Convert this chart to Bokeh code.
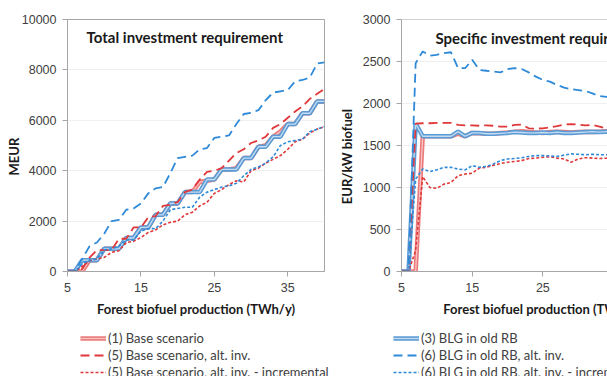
from bokeh.embed import file_html
from bokeh.layouts import column, row
from bokeh.models import FixedTicker, Label, Legend, LegendItem, Range1d, Span
from bokeh.plotting import figure
from bokeh.resources import INLINE

# Forest biofuel production (TWh/y)
production = list(range(5, 41))

# Total investment requirement (MEUR)
total_base = [0, 0, 0, 450, 450, 900, 900, 900, 1330, 1330, 1750, 1750, 2250, 2250,
              2700, 2700, 3150, 3150, 3550, 3600, 3650, 4050, 4050, 4100, 4500, 4500,
              4950, 5000, 5350, 5550, 5850, 5850, 6280, 6280, 6750, 6750]
total_blg = [0, 0, 450, 450, 450, 900, 900, 900, 1330, 1330, 1750, 1750, 2250, 2250,
             2700, 2700, 3150, 3150, 3150, 3650, 3650, 4050, 4050, 4050, 4500, 4500,
             4950, 4950, 5350, 5350, 5850, 5850, 6280, 6280, 6750, 6750]
total_base_alt = [0, 0, 100, 550, 850, 850, 850, 1300, 1300, 1750, 1750, 2150, 2200,
                  2600, 2650, 2750, 3150, 3250, 3650, 3950, 4000, 4100, 4400, 4700,
                  4850, 5100, 5200, 5350, 5700, 5850, 6100, 6350, 6550, 6850, 7050, 7250]
total_blg_alt = [0, 0, 500, 1000, 1150, 1500, 2000, 2050, 2450, 2500, 2700, 3100, 3300,
                 3350, 3900, 4500, 4550, 4600, 4850, 4900, 5300, 5350, 5400, 5850, 6250,
                 6300, 6400, 6800, 7100, 7150, 7200, 7550, 7600, 7700, 8250, 8300]
total_base_incr = [0, 0, 200, 430, 500, 560, 760, 820, 1150, 1200, 1350, 1550, 1650,
                   1850, 1950, 2000, 2250, 2350, 2600, 2750, 3100, 3250, 3450, 3600, 3550,
                   4000, 4100, 4300, 4450, 4600, 4850, 5150, 5250, 5500, 5650, 5750]
total_blg_incr = [0, 0, 300, 450, 500, 850, 900, 1000, 1250, 1250, 1600, 1700, 1700,
                  2000, 2450, 2500, 2550, 2550, 2950, 3150, 3250, 3350, 3400, 3500, 3800,
                  4050, 4150, 4300, 4550, 5000, 5150, 5200, 5250, 5550, 5650, 5750]

# Specific investment requirement (EUR/kW biofuel)
spec_base = [0, 0, 0, 1610, 1610, 1610, 1610, 1610, 1640, 1610, 1650, 1645, 1640, 1640,
             1650, 1655, 1665, 1670, 1660, 1655, 1650, 1660, 1665, 1660, 1655, 1660,
             1665, 1660, 1665, 1670, 1665, 1670, 1670, 1668, 1672, 1670]
spec_blg = [0, 0, 1760, 1610, 1610, 1610, 1610, 1610, 1665, 1610, 1650, 1650, 1640, 1640,
            1645, 1650, 1660, 1655, 1650, 1650, 1655, 1650, 1660, 1650, 1650, 1655, 1660,
            1665, 1660, 1665, 1670, 1670, 1672, 1670, 1675, 1675]
spec_base_alt = [0, 0, 1760, 1765, 1765, 1770, 1770, 1770, 1745, 1740, 1740, 1735, 1740,
                 1735, 1725, 1725, 1745, 1750, 1705, 1700, 1705, 1715, 1730, 1750, 1755,
                 1750, 1740, 1745, 1725, 1700, 1700, 1700, 1700, 1700, 1700, 1700]
spec_blg_alt = [0, 0, 2480, 2620, 2570, 2580, 2600, 2610, 2420, 2420, 2520, 2400, 2390,
                2380, 2370, 2410, 2420, 2410, 2370, 2320, 2280, 2260, 2220, 2190, 2170,
                2160, 2150, 2120, 2090, 2080, 2090, 2060, 2040, 2030, 2020, 2010]
spec_base_incr = [0, 0, 250, 1130, 1000, 990, 1040, 1060, 1140, 1160, 1170, 1230, 1240,
                  1265, 1285, 1300, 1310, 1320, 1345, 1350, 1360, 1365, 1350, 1340, 1300,
                  1340, 1355, 1350, 1345, 1350, 1360, 1360, 1365, 1365, 1370, 1370]
spec_blg_incr = [0, 0, 1100, 1220, 1190, 1210, 1240, 1240, 1220, 1210, 1260, 1240, 1250,
                 1280, 1320, 1340, 1345, 1355, 1370, 1380, 1380, 1375, 1370, 1385, 1400,
                 1395, 1390, 1395, 1390, 1390, 1390, 1395, 1395, 1400, 1400, 1400]

legend_labels = {
    "base": "(1) Base scenario",
    "base_alt": "(5) Base scenario, alt. inv.",
    "base_incr": "(5) Base scenario, alt. inv. - incremental",
    "blg": "(3) BLG in old RB",
    "blg_alt": "(6) BLG in old RB, alt. inv.",
    "blg_incr": "(6) BLG in old RB, alt. inv. - incremental",
}

RED = "#e0383a"
RED_SOFT = "#ec7a7a"
RED_PALE = "#f7c4c4"
BLUE = "#2e8ad8"
BLUE_SOFT = "#5b9bd5"
BLUE_PALE = "#c3dcf2"

TEXT_FONT = "Lato"
NUM_FONT = "Liberation Sans"
GRAY = "#404040"
FRAME = "#a6a6a6"
NBSP = "\u00a0"

# line styles per series: list of (color, width, dash) strokes drawn on top of each other
STROKES = {
    "base": [(RED_SOFT, 4.5, "solid"), (RED_PALE, 1.3, "solid")],
    "blg": [(BLUE_SOFT, 4.5, "solid"), (BLUE_PALE, 1.3, "solid")],
    "base_alt": [(RED, 1.8, "9 5")],
    "blg_alt": [(BLUE, 1.8, "9 5")],
    "base_incr": [(RED, 1.6, "3 2")],
    "blg_incr": [(BLUE, 1.6, "3 2")],
}
ORDER = ["base", "blg", "base_alt", "blg_alt", "base_incr", "blg_incr"]


def style(p, yticks, xlabel, ylabel):
    p.background_fill_color = "white"
    p.border_fill_color = "white"
    p.xgrid.grid_line_color = None
    p.ygrid.grid_line_color = "#efefef"
    p.xaxis.ticker = FixedTicker(ticks=[5, 15, 25, 35])
    p.yaxis.ticker = FixedTicker(ticks=yticks)
    for ax in (p.xaxis, p.yaxis):
        ax.axis_line_color = FRAME
        ax.major_tick_line_color = FRAME
        ax.minor_tick_line_color = None
        ax.major_tick_in = 0
        ax.major_tick_out = 5
        ax.major_label_text_font = NUM_FONT
        ax.major_label_text_font_size = "12.5px"
        ax.major_label_text_color = GRAY
        ax.axis_label_text_font = TEXT_FONT
        ax.axis_label_text_font_style = "bold"
        ax.axis_label_text_font_size = "13px"
        ax.axis_label_text_color = "#1a1a1a"
    p.xaxis.major_label_standoff = 6
    p.yaxis.major_label_standoff = 6
    p.xaxis.axis_label = xlabel
    p.yaxis.axis_label = ylabel
    p.xaxis.axis_label_standoff = 6
    p.yaxis.formatter.use_scientific = False


def draw_series(p, values):
    for key in ORDER:
        for color, width, dash in STROKES[key]:
            p.line(production, values[key], line_color=color, line_width=width,
                   line_dash=dash)


def legend_panel(width, keys, x_off):
    p = figure(width=width, height=46, output_backend="svg", toolbar_location=None,
               x_axis_type=None, y_axis_type=None,
               x_range=Range1d(0, 1), y_range=Range1d(0, 1),
               min_border_left=0, min_border_right=0, min_border_top=0,
               min_border_bottom=0)
    p.outline_line_color = None
    p.grid.grid_line_color = None
    items = []
    for key in keys:
        # legend-only strokes: a single missing point, so nothing is plotted
        rends = [p.line([float("nan")], [float("nan")], line_color=c, line_width=w,
                        line_dash=d)
                 for c, w, d in STROKES[key]]
        items.append(LegendItem(label=legend_labels[key], renderers=rends))
    leg = Legend(items=items, location=(x_off, -4), orientation="vertical",
                 glyph_width=26, glyph_height=12, label_height=12, spacing=1,
                 label_standoff=2, padding=0, margin=0,
                 label_text_font=TEXT_FONT, label_text_font_size="13px",
                 label_text_color=GRAY, border_line_color=None,
                 background_fill_alpha=0)
    p.add_layout(leg, "center")
    return p


def title(p, x, y, text):
    p.add_layout(Label(x=x, y=y, text=text, text_font=TEXT_FONT,
                       text_font_size="15px", text_font_style="bold",
                       text_color="#1a1a1a", text_baseline="middle",
                       text_align="left"))


# Left panel: total investment
left = figure(width=335, height=330, output_backend="svg", toolbar_location=None,
              x_range=Range1d(5, 40), y_range=Range1d(0, 10000),
              min_border_left=67, min_border_right=11, min_border_top=19,
              min_border_bottom=59)
left.outline_line_color = FRAME
style(left, list(range(0, 10001, 2000)),
      "Forest biofuel production (TWh/y)", "MEUR" + NBSP * 7)
left.yaxis.axis_label_standoff = -3
draw_series(left, {
    "base": total_base, "blg": total_blg, "base_alt": total_base_alt,
    "blg_alt": total_blg_alt, "base_incr": total_base_incr, "blg_incr": total_blg_incr,
})
title(left, 7.6, 9290, "Total investment requirement")

# Right panel: specific investment (axis continues past the visible edge)
right = figure(width=272, height=330, output_backend="svg", toolbar_location=None,
               x_range=Range1d(5, 34.14), y_range=Range1d(0, 3000),
               min_border_left=66, min_border_right=0, min_border_top=19,
               min_border_bottom=59)
right.outline_line_color = None
style(right, list(range(0, 3001, 500)),
      NBSP * 24 + "Forest biofuel production (TWh/y)", "EUR/kW biofuel" + NBSP * 7)
right.yaxis.axis_label_standoff = 5
right.add_layout(Span(location=3000, dimension="width", line_color=FRAME,
                      line_width=1))
draw_series(right, {
    "base": spec_base, "blg": spec_blg, "base_alt": spec_base_alt,
    "blg_alt": spec_blg_alt, "base_incr": spec_base_incr, "blg_incr": spec_blg_incr,
})
title(right, 9.8, 2775, "Specific investment requirement")

legend_left = legend_panel(335, ["base", "base_alt", "base_incr"], 80)
legend_right = legend_panel(272, ["blg", "blg_alt", "blg_incr"], 58)

layout = column(row(left, right), row(legend_left, legend_right))
open("out.html", "w").write(file_html(layout, INLINE))
